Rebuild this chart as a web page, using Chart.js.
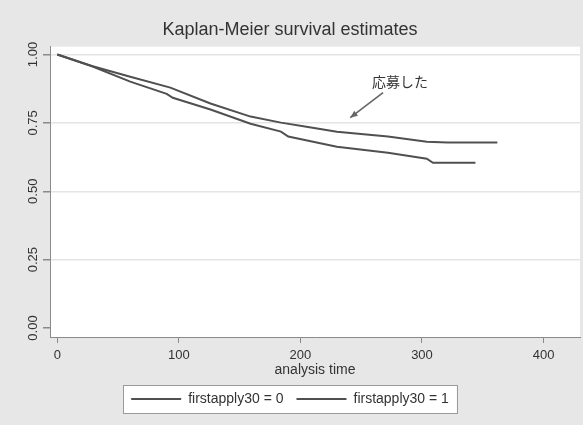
<!DOCTYPE html>
<html>
<head>
<meta charset="utf-8">
<script src="https://cdn.jsdelivr.net/npm/chart.js@4"></script>
<style>
html,body{margin:0;padding:0;background:#e7e7e7;}
canvas{display:block;}
</style>
</head>
<body>
<canvas id="c" width="583" height="425"></canvas>
<script>
// ---- data ----
const TITLE = 'Kaplan-Meier survival estimates';
const X_TITLE = 'analysis time';
const SERIES_LABELS = ['firstapply30 = 0', 'firstapply30 = 1'];

// firstapply30 = 0 (lower curve)
const TIME_0 = [0, 27, 60, 90, 95, 126, 159, 184, 190, 230, 272, 304, 309, 344];
const SURV_0 = [1.0, 0.960, 0.901, 0.856, 0.842, 0.799, 0.747, 0.718, 0.700, 0.663, 0.641, 0.619, 0.604, 0.604];

// firstapply30 = 1 (upper curve)
const TIME_1 = [0, 27, 60, 93, 126, 159, 184, 205, 230, 272, 304, 321, 362];
const SURV_1 = [1.0, 0.960, 0.919, 0.879, 0.821, 0.773, 0.751, 0.736, 0.718, 0.700, 0.681, 0.678, 0.678];

const X_TICKS = [0, 100, 200, 300, 400];
const Y_TICKS = [0, 0.25, 0.5, 0.75, 1];

const NOTE_TEXT = '応募した';
const NOTE_POS = [282, 0.901];       // data coords of the note text
const ARROW_FROM = [268, 0.861];     // data coords
const ARROW_TO = [241, 0.769];       // data coords

// ---- chart ----
const FONT = '"Liberation Sans", Arial, sans-serif';
const LINE = '#505050';
const TEXT = '#333333';

function pts(t, s) { return t.map((v, i) => ({ x: v, y: s[i] })); }

const bgPlugin = {
  id: 'bg',
  beforeDraw(chart) {
    const { ctx, chartArea: a } = chart;
    ctx.save();
    ctx.fillStyle = '#e7e7e7';
    ctx.fillRect(0, 0, chart.width, chart.height);
    ctx.fillStyle = '#ffffff';
    ctx.fillRect(a.left, a.top, a.right - a.left, a.bottom - a.top);
    // legend frame
    const lg = chart.legend;
    if (lg && lg.legendHitBoxes && lg.legendHitBoxes.length) {
      const hb = lg.legendHitBoxes;
      const l = Math.min(...hb.map(h => h.left)) - 8;
      const r = Math.max(...hb.map(h => h.left + h.width)) + 8;
      const t = Math.min(...hb.map(h => h.top)) - 7;
      const b = Math.max(...hb.map(h => h.top + h.height)) + 7;
      ctx.fillStyle = '#ffffff';
      ctx.fillRect(l, t, r - l, b - t);
      ctx.strokeStyle = '#9a9a9a';
      ctx.lineWidth = 1;
      ctx.strokeRect(Math.round(l) + 0.5, Math.round(t) + 0.5, Math.round(r - l), Math.round(b - t));
    }
    ctx.restore();
  }
};

const yLabelPlugin = {
  id: 'ylabels',
  afterDraw(chart) {
    const ys = chart.scales.y;
    const ctx = chart.ctx;
    ctx.save();
    ctx.font = '13px ' + FONT;
    ctx.fillStyle = TEXT;
    ctx.textAlign = 'center';
    ctx.textBaseline = 'middle';
    Y_TICKS.forEach(v => {
      const py = ys.getPixelForValue(v);
      ctx.save();
      ctx.translate(ys.right - 17, py);
      ctx.rotate(-Math.PI / 2);
      ctx.fillText(v.toFixed(2), 0, 0);
      ctx.restore();
    });
    ctx.restore();
  }
};

const notePlugin = {
  id: 'note',
  afterDatasetsDraw(chart) {
    const xs = chart.scales.x, ys = chart.scales.y, ctx = chart.ctx;
    ctx.save();
    ctx.font = '14px "Noto Sans CJK JP", sans-serif';
    ctx.fillStyle = TEXT;
    ctx.textAlign = 'center';
    ctx.textBaseline = 'middle';
    ctx.fillText(NOTE_TEXT, xs.getPixelForValue(NOTE_POS[0]), ys.getPixelForValue(NOTE_POS[1]));
    const x1 = xs.getPixelForValue(ARROW_FROM[0]), y1 = ys.getPixelForValue(ARROW_FROM[1]);
    const x2 = xs.getPixelForValue(ARROW_TO[0]), y2 = ys.getPixelForValue(ARROW_TO[1]);
    ctx.strokeStyle = '#666666';
    ctx.fillStyle = '#666666';
    ctx.lineWidth = 1.6;
    ctx.beginPath(); ctx.moveTo(x1, y1); ctx.lineTo(x2, y2); ctx.stroke();
    const ang = Math.atan2(y2 - y1, x2 - x1), h = 8;
    ctx.beginPath();
    ctx.moveTo(x2, y2);
    ctx.lineTo(x2 - h * Math.cos(ang - 0.4), y2 - h * Math.sin(ang - 0.4));
    ctx.lineTo(x2 - h * Math.cos(ang + 0.4), y2 - h * Math.sin(ang + 0.4));
    ctx.closePath(); ctx.fill();
    ctx.restore();
  }
};

new Chart(document.getElementById('c'), {
  type: 'line',
  data: {
    datasets: [
      { label: SERIES_LABELS[0], data: pts(TIME_0, SURV_0), borderColor: LINE, backgroundColor: LINE, borderWidth: 2, pointRadius: 0, tension: 0 },
      { label: SERIES_LABELS[1], data: pts(TIME_1, SURV_1), borderColor: LINE, backgroundColor: LINE, borderWidth: 2, pointRadius: 0, tension: 0 }
    ]
  },
  options: {
    responsive: false,
    devicePixelRatio: 1,
    animation: false,
    layout: { padding: { left: 0, right: 3, top: 0, bottom: 9 } },
    plugins: {
      title: {
        display: true, text: TITLE, color: TEXT,
        font: { family: FONT, size: 18, weight: 'normal' },
        padding: { top: 19, bottom: 6 }
      },
      legend: {
        position: 'bottom',
        labels: {
          color: TEXT, font: { family: FONT, size: 14 },
          boxWidth: 50, boxHeight: 2, padding: 13,
          generateLabels(chart) {
            const items = Chart.defaults.plugins.legend.labels.generateLabels(chart);
            items.forEach(i => { i.lineWidth = 0; i.fillStyle = LINE; i.strokeStyle = LINE; });
            return items;
          }
        }
      },
      tooltip: { enabled: false }
    },
    scales: {
      x: {
        type: 'linear', min: -6, max: 430,
        afterBuildTicks(s) { s.ticks = X_TICKS.map(v => ({ value: v })); },
        afterFit(s) { s.height = 42; },
        ticks: { color: TEXT, font: { family: FONT, size: 13 }, padding: 5, maxRotation: 0, callback: v => String(v) },
        grid: { drawOnChartArea: false, drawTicks: true, tickLength: 6, tickColor: '#8a8a8a' },
        border: { color: '#8a8a8a', width: 1 },
        title: { display: true, text: X_TITLE, color: TEXT, font: { family: FONT, size: 14 }, padding: { top: 0, bottom: 0 } }
      },
      y: {
        type: 'linear', min: -0.033, max: 1.029,
        afterBuildTicks(s) { s.ticks = Y_TICKS.map(v => ({ value: v })); },
        afterFit(s) { s.width = 50; },
        ticks: { display: false },
        grid: {
          drawTicks: true, tickLength: 7, tickColor: '#8a8a8a',
          color: ctx => (ctx.tick && ctx.tick.value === 0) ? 'rgba(0,0,0,0)' : '#e4e4e4',
          lineWidth: 1.5
        },
        border: { color: '#8a8a8a', width: 1 }
      }
    }
  },
  plugins: [bgPlugin, yLabelPlugin, notePlugin]
});
</script>
</body>
</html>
